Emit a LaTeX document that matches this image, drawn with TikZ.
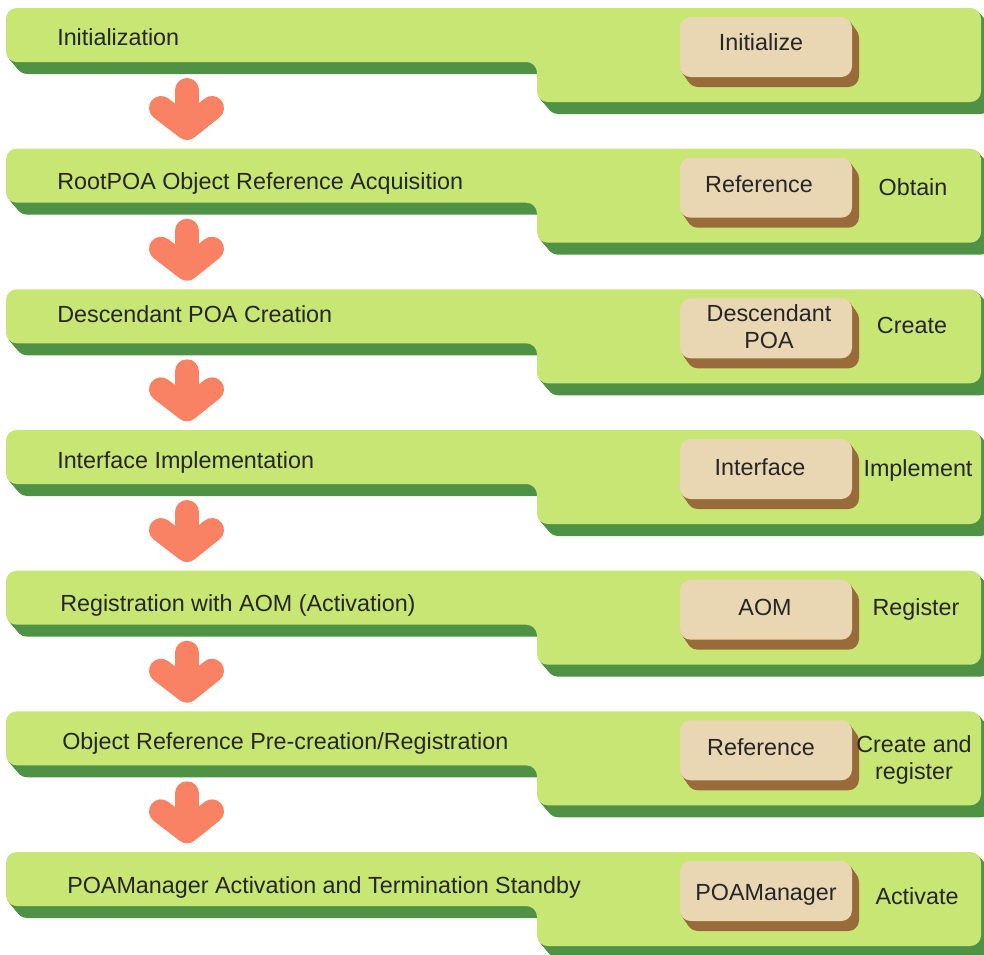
\documentclass[tikz,border=0pt]{standalone}
\usepackage{fontspec}
\setmainfont{Liberation Sans}
\definecolor{leaf}{HTML}{C8E673}
\definecolor{leafdark}{HTML}{4F9246}
\definecolor{sand}{HTML}{E9D7B3}
\definecolor{sanddark}{HTML}{9A6B3A}
\definecolor{coral}{HTML}{FA8264}
\begin{document}
\begin{tikzpicture}[x=0.75pt,y=-0.75pt,
  every node/.style={font=\fontsize{17.5}{20.25}\selectfont, inner sep=0pt, text=black!85},
  title/.style={anchor=base west},
  boxlabel/.style={anchor=base, align=center},
  verb/.style={anchor=base, align=center},
  % one stage band: green tab with a deeper right part and a sand button
  stage/.pic={
    \foreach \t in {1,...,12}
      \fill[leafdark, rounded corners=8] ({6+\t*0.85},\t) -- ({981+\t*0.85},\t) -- ({981+\t*0.85},{94+\t})
        -- ({537+\t*0.85},{94+\t}) -- ({537+\t*0.85},{54+\t}) -- ({6+\t*0.85},{54+\t}) -- cycle;
    \fill[leaf, rounded corners=8] (6,0) -- (981,0) -- (981,94) -- (537,94) -- (537,54) -- (6,54) -- cycle;
    \foreach \t in {1,...,10}
      \fill[sanddark, rounded corners=8] ({680+\t*0.7},{9+\t}) rectangle ({852+\t*0.7},{69+\t});
    \fill[sand, rounded corners=8] (680,9) rectangle (852,69);
  },
  % thick down arrow between two stages
  downarrow/.pic={
    \draw[coral, line width=18pt, line cap=round] (187,82) -- (187,112);
    \draw[coral, line width=18pt, line cap=round, line join=round] (161,100) -- (187,120) -- (212,100);
  }
]
\useasboundingbox (0,0) rectangle (984,954);
\clip (0,0) rectangle (984,954);

\foreach \y in {8,148.7,289.3,430,570.7,711.3,852}
  \pic at (0,\y) {stage};
\foreach \y in {8,148.7,289.3,430,570.7,711.3}
  \pic at (0,\y) {downarrow};

% stage titles
\node[title] (s1) at (57,45)  {Initialization};
\node[title] (s2) at (57,189) {RootPOA Object Reference Acquisition};
\node[title] (s3) at (57,322) {Descendant POA Creation};
\node[title] (s4) at (57,468) {Interface Implementation};
\node[title] (s5) at (60,611) {Registration with AOM (Activation)};
\node[title] (s6) at (62,749) {Object Reference Pre-creation/Registration};
\node[title] (s7) at (67,893) {POAManager Activation and Termination Standby};

% button labels
\node[boxlabel] (b1) at (761,50)  {Initialize};
\node[boxlabel] (b2) at (759,192) {Reference};
\node[anchor=center, align=center] (b3) at (769,327) {Descendant\\POA};
\node[boxlabel] (b4) at (760,475) {Interface};
\node[boxlabel] (b5) at (765,615) {AOM};
\node[boxlabel] (b6) at (761,755) {Reference};
\node[boxlabel] (b7) at (766,900) {POAManager};

% actions
\node[verb] (v2) at (913,195) {Obtain};
\node[verb] (v3) at (912,333) {Create};
\node[verb] (v4) at (918,476) {Implement};
\node[verb] (v5) at (916,615) {Register};
\node[anchor=center, align=center] (v6) at (914,760) {Create and\\register};
\node[verb] (v7) at (917,904) {Activate};
\end{tikzpicture}
\end{document}
